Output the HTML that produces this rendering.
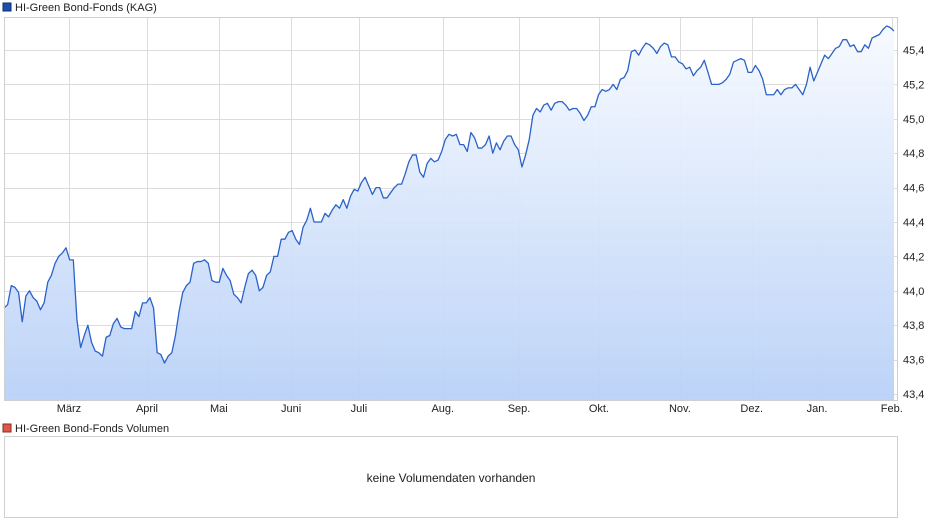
<!DOCTYPE html>
<html><head><meta charset="utf-8"><style>
html,body{margin:0;padding:0;background:#fff;width:940px;height:526px;overflow:hidden;font-family:"Liberation Sans",Arial,sans-serif;}
svg text{font-family:"Liberation Sans",Arial,sans-serif;}
</style></head><body>
<svg id="chart" width="940" height="526" viewBox="0 0 940 526" xmlns="http://www.w3.org/2000/svg">
<defs>
<linearGradient id="fillg" x1="0" y1="0" x2="0" y2="1">
<stop offset="0" stop-color="#f7faff"/>
<stop offset="1" stop-color="#b9d1f7"/>
</linearGradient>
</defs>
<rect x="3" y="3" width="8" height="8" fill="#1a4fb0" stroke="#0d2f70" stroke-width="1"/>
<text x="15" y="11" font-size="11" fill="#222">HI-Green Bond-Fonds (KAG)</text>
<g id="grid"></g>
<g id="watermark" opacity="0.5">
<rect x="378" y="190" width="144" height="27" rx="8" fill="#dde6f2"/>
<text x="450" y="212" font-size="24" font-style="italic" font-weight="bold" fill="#eef3fa" text-anchor="middle">ARIVA.DE</text>
</g>
<g id="series"></g>
<rect x="4.5" y="17.5" width="893" height="383" fill="none" stroke="#cfcfcf"/>
<g id="yticks"></g>
<g id="xticks"></g>
<rect x="3" y="424" width="8" height="8" fill="#e0574a" stroke="#8a2a20" stroke-width="1"/>
<text x="15" y="432" font-size="11" fill="#222">HI-Green Bond-Fonds Volumen</text>
<rect x="4.5" y="436.5" width="893" height="81" fill="#fff" stroke="#cfcfcf"/>
<text x="451" y="482" font-size="12" fill="#222" text-anchor="middle">keine Volumendaten vorhanden</text>
</svg>
<script>
const prices = [43.90,43.92,44.03,44.02,43.99,43.82,43.97,44.00,43.96,43.94,43.89,43.93,44.05,44.09,44.16,44.20,44.22,44.25,44.18,44.18,
43.83,43.67,43.74,43.80,43.70,43.65,43.64,43.62,43.73,43.74,43.81,43.84,43.79,43.78,43.78,43.78,43.88,43.85,43.93,43.93,
43.96,43.90,43.64,43.63,43.58,43.62,43.64,43.74,43.88,43.99,44.03,44.05,44.16,44.17,44.17,44.18,44.16,44.06,44.05,44.05,
44.13,44.09,44.06,43.98,43.96,43.93,44.02,44.10,44.12,44.09,44.00,44.02,44.09,44.11,44.20,44.20,44.30,44.30,44.34,44.35,
44.30,44.27,44.37,44.41,44.48,44.40,44.40,44.40,44.45,44.43,44.47,44.50,44.48,44.53,44.48,44.55,44.59,44.58,44.63,44.66,
44.61,44.56,44.60,44.60,44.54,44.54,44.57,44.60,44.62,44.62,44.68,44.75,44.79,44.79,44.69,44.66,44.74,44.77,44.75,44.76,
44.81,44.88,44.91,44.90,44.91,44.85,44.85,44.81,44.92,44.89,44.83,44.83,44.85,44.90,44.80,44.86,44.82,44.87,44.90,44.90,
44.85,44.82,44.72,44.79,44.88,45.02,45.06,45.04,45.08,45.09,45.05,45.09,45.10,45.10,45.08,45.05,45.06,45.06,45.03,44.99,
45.02,45.07,45.07,45.14,45.17,45.16,45.17,45.20,45.17,45.23,45.24,45.28,45.39,45.40,45.37,45.41,45.44,45.43,45.41,45.38,
45.42,45.44,45.43,45.36,45.36,45.33,45.32,45.29,45.30,45.25,45.28,45.30,45.34,45.27,45.20,45.20,45.20,45.21,45.23,45.26,
45.33,45.34,45.35,45.34,45.27,45.27,45.31,45.28,45.23,45.14,45.14,45.14,45.17,45.14,45.17,45.18,45.18,45.20,45.17,45.14,
45.20,45.30,45.22,45.27,45.32,45.37,45.35,45.38,45.41,45.42,45.46,45.46,45.42,45.43,45.39,45.39,45.43,45.41,45.47,45.48,
45.49,45.52,45.54,45.53,45.51];
const monthLabels = ["März","April","Mai","Juni","Juli","Aug.","Sep.","Okt.","Nov.","Dez.","Jan.","Feb."];
const monthIndex = [17.8,39.2,58.9,78.7,97.3,120.3,141.2,163.1,185.3,205.0,222.9,243.4];
const yTickValues = [43.4,43.6,43.8,44.0,44.2,44.4,44.6,44.8,45.0,45.2,45.4];
const yTickLabels = ["43,4","43,6","43,8","44,0","44,2","44,4","44,6","44,8","45,0","45,2","45,4"];

const NS = "http://www.w3.org/2000/svg";
const X0 = 4, X1 = 894, Y_LO = 394, Y_HI = 50, V_LO = 43.4, V_HI = 45.4;
function xScale(i){ return X0 + (X1 - X0) * i / (prices.length - 1); }
function yScale(v){ return Y_LO - (v - V_LO) / (V_HI - V_LO) * (Y_LO - Y_HI); }
function mk(tag, attrs){ const e = document.createElementNS(NS, tag); for (const k in attrs) e.setAttribute(k, attrs[k]); return e; }

const grid = document.getElementById('grid');
const yt = document.getElementById('yticks');
yTickValues.forEach((v, k) => {
  const y = Math.round(yScale(v)) + 0.5;
  const l = mk('line', {x1: 4, x2: 897, y1: y, y2: y, stroke: '#dcdcdc'});
  
  
  grid.appendChild(l);
  const t = mk('text', {x: 903, y: yScale(v) + 4, 'font-size': 11, fill: '#222'});
  
  
  t.textContent = yTickLabels[k];
  yt.appendChild(t);
});
const xt = document.getElementById('xticks');
monthIndex.forEach((mi, k) => {
  const x = Math.round(xScale(mi)) + 0.5;
  const l = mk('line', {x1: x, x2: x, y1: 17, y2: 400, stroke: '#dcdcdc'});
  
  
  grid.appendChild(l);
  const t = mk('text', {x: xScale(mi), y: 412, 'font-size': 11, fill: '#222', 'text-anchor': 'middle'});
  
  
  t.textContent = monthLabels[k];
  xt.appendChild(t);
});

const ser = document.getElementById('series');
let d = '';
prices.forEach((v, i) => { d += (i ? 'L' : 'M') + xScale(i).toFixed(2) + ',' + yScale(v).toFixed(2); });
const area = mk('path', {d: d + 'L' + xScale(prices.length - 1).toFixed(2) + ',400L' + X0 + ',400Z', fill: 'url(#fillg)', opacity: 0.95});


ser.appendChild(area);
const line = mk('path', {d: d, fill: 'none', stroke: '#2a62c9', 'stroke-width': 1.3, 'stroke-linejoin': 'round'});


ser.appendChild(line);
</script>
</body></html>
